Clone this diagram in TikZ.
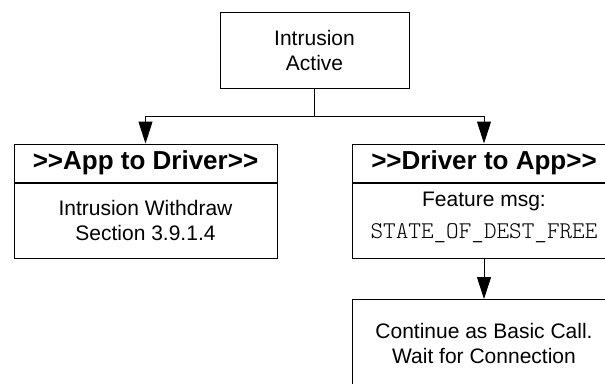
\documentclass[tikz,border=0pt]{standalone}
\usepackage{fontspec}
\setmainfont{Liberation Sans}
\newfontfamily\codefont{Latin Modern Mono Light}
\usetikzlibrary{arrows.meta}

\tikzset{
  boxbase/.style={draw, line width=1pt, inner sep=0pt, align=center,
    minimum width=263pt},
  plainbox/.style={boxbase, font=\fontsize{21}{25}\selectfont},
  headbox/.style={boxbase, minimum height=38pt,
    font=\fontsize{26}{30}\selectfont\bfseries},
  labeltext/.style={inner sep=0pt, align=center,
    font=\fontsize{21}{25}\selectfont},
  link/.style={line width=1pt},
  flow/.style={link, -{Triangle[length=22pt,width=14pt]}}
}

\begin{document}
\begin{tikzpicture}[x=1pt,y=1pt]
  \useasboundingbox (0,0) rectangle (605,-383);
  \clip (0,0) rectangle (605,-383);

  % starting state
  \node[plainbox, minimum width=189pt, minimum height=76pt] (start)
    at (314.5,-50) {Intrusion\\Active};

  % left branch: application to driver
  \node[headbox] (apphead) at (145.5,-163) {>{}>App to Driver>{}>};
  \node[plainbox, minimum height=75pt, anchor=north] (appbody)
    at (apphead.south) {Intrusion Withdraw\\Section 3.9.1.4};

  % right branch: driver to application
  \node[headbox] (drvhead) at (484,-163) {>{}>Driver to App>{}>};
  \node[plainbox, minimum height=75pt, anchor=north] (drvbody)
    at (drvhead.south) {};
  \node[labeltext] (drvtext) at ([yshift=3.5pt]drvbody.center)
    {Feature msg:\\[7pt]{\codefont\fontsize{24}{28}\selectfont STATE\_OF\_DEST\_FREE}};

  % follow-up action
  \node[plainbox, minimum height=88pt, anchor=north] (basic)
    at (484,-299) {Continue as Basic Call.\\Wait for Connection};

  % connectors
  \coordinate (split) at (start.south |- 0,-116);
  \draw[link] (start.south) -- (split);
  \draw[flow] (split) -| (apphead.north);
  \draw[flow] (split) -| (drvhead.north);
  \draw[flow] (drvbody.south) -- (basic.north);
\end{tikzpicture}
\end{document}
